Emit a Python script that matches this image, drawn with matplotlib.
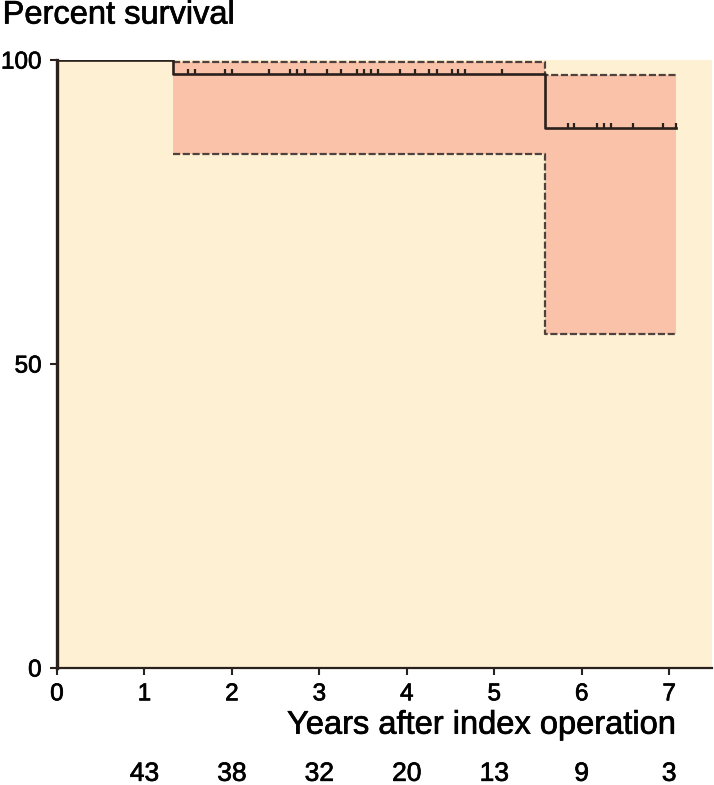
"""
Kaplan-Meier survival plot with 95% confidence band and number at risk
"""

import matplotlib.pyplot as plt
import matplotlib.transforms as mtransforms
import matplotlib.patheffects as pe
import numpy as np

#---------------------------------------------------------------------------------------------------
# Input Data
#---------------------------------------------------------------------------------------------------

# Survival step function (years, percent)
km_time = [0, 1.33, 5.58, 7.08]
km_surv = [100, 97.7, 88.9, 88.9]

# Confidence band (starts at first event)
ci_time = [1.33, 5.58, 7.08]
ci_upper = [99.7, 97.5, 97.5]
ci_lower = [84.5, 54.9, 54.9]

# Censored observations
censor_first = [1.50, 1.58, 1.92, 2.00, 2.42, 2.67, 2.74, 2.84, 3.09, 3.25, 3.43, 3.51,
                3.59, 3.67, 3.92, 4.09, 4.25, 4.34, 4.52, 4.59, 4.66, 5.09]
censor_second = [5.84, 5.91, 6.17, 6.25, 6.33, 6.59, 6.93, 7.08]

# Number at risk
risk_years = [1, 2, 3, 4, 5, 6, 7]
risk_counts = [43, 38, 32, 20, 13, 9, 3]

xticks = [0, 1, 2, 3, 4, 5, 6, 7]
yticks = [0, 50, 100]

bg_color = '#fef0d2'
band_color = '#f9c2a9'
line_color = '#2a201c'
dash_color = '#4f423e'

#---------------------------------------------------------------------------------------------------
# Make Plot
#---------------------------------------------------------------------------------------------------

plt.rcParams['font.family'] = ['Liberation Sans', 'DejaVu Sans']
heavy = [pe.withStroke(linewidth=0.5, foreground='black')]

fig = plt.figure(figsize=(7.14, 7.85), dpi=100)
ax = fig.add_axes([0.0798, 0.149, 0.9174, 0.7745])
ax.set_facecolor(bg_color)

# confidence band
ax.fill_between(ci_time, ci_lower, ci_upper, step='post', color=band_color, lw=0, zorder=1)
ax.step(ci_time, ci_upper, where='post', color=dash_color, lw=1.6, ls=(0, (3.2, 1.2)), zorder=2)
ax.step(ci_time, ci_lower, where='post', color=dash_color, lw=1.6, ls=(0, (3.2, 1.2)), zorder=2)

# survival curve
ax.step(km_time, km_surv, where='post', color=line_color, lw=1.9, zorder=3)

# censor marks
tick_marker = [(0, 0), (0, 1)]
ax.plot(censor_first, [km_surv[1]] * len(censor_first), ls='none', marker=tick_marker,
        ms=6.5, mew=1.6, color=line_color, zorder=4)
ax.plot(censor_second, [km_surv[2]] * len(censor_second), ls='none', marker=tick_marker,
        ms=6.5, mew=1.6, color=line_color, zorder=4)

ax.set_xlim(0, 7.49)
ax.set_ylim(0, 100)
ax.set_xticks(xticks)
ax.set_yticks(yticks)
ax.tick_params(axis='both', labelsize=17.5, length=5, width=1.5, color=line_color)
ax.tick_params(axis='y', pad=6)
ax.tick_params(axis='x', pad=6)
for lbl in ax.get_xticklabels() + ax.get_yticklabels():
    lbl.set_path_effects(heavy)

for side in ['top', 'right']:
    ax.spines[side].set_visible(False)
ax.spines['left'].set_linewidth(2.4)
ax.spines['bottom'].set_linewidth(1.6)
ax.spines['left'].set_color(line_color)
ax.spines['bottom'].set_color(line_color)

ax.set_ylabel('Percent survival', fontsize=23.5, rotation=0, ha='left', va='center',
              path_effects=heavy)
ax.yaxis.set_label_coords(-0.083, 1.074)
ax.set_xlabel('Years after index operation', fontsize=23.5, ha='center', va='center',
              path_effects=heavy)
ax.xaxis.set_label_coords(0.648, -0.094)

# number at risk row
trans = mtransforms.blended_transform_factory(ax.transData, ax.transAxes)
for x, n in zip(risk_years, risk_counts):
    ax.text(x, -0.174, str(n), transform=trans, ha='center', va='center', fontsize=19,
            path_effects=heavy)

plt.savefig('out.png', dpi=100)
